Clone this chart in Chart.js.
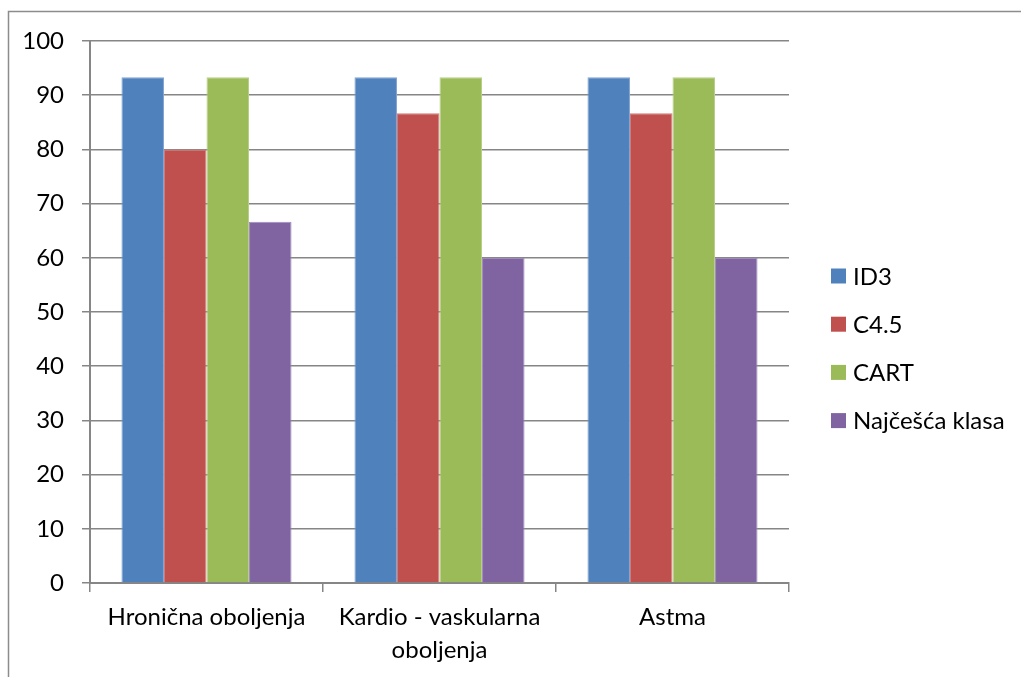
<!DOCTYPE html>
<html>
<head>
<meta charset="utf-8">
<script src="https://cdn.jsdelivr.net/npm/chart.js@4.4.1/dist/chart.umd.min.js"></script>
<style>
  html, body { margin: 0; padding: 0; background: #ffffff; }
  #wrap { width: 1021px; height: 677px; position: relative; }
</style>
</head>
<body>
<div id="wrap"><canvas id="c" width="1021" height="677"></canvas></div>
<script>
// Categories (x axis), with the long one wrapped onto two lines
const categories = [
  'Hronična oboljenja',
  ['Kardio - vaskularna', 'oboljenja'],
  'Astma'
];

// Accuracy (%) per algorithm
const seriesNames = ['ID3', 'C4.5', 'CART', 'Najčešća klasa'];
const id3Values    = [93.33, 93.33, 93.33];
const c45Values    = [80.00, 86.67, 86.67];
const cartValues   = [93.33, 93.33, 93.33];
const najcescaValues = [66.67, 60.00, 60.00];

const seriesColors = ['#4F81BD', '#C0504D', '#9BBB59', '#8064A2'];
const seriesBorders = ['#7FA3D0', '#D07C79', '#B7CF86', '#A08BBF'];

// y axis ticks
const yMin = 0, yMax = 100, yStep = 10;

const FONT = 'Lato, "Open Sans", "DejaVu Sans", sans-serif';
const FONT_SIZE = 24;
const GRID = '#868686';

// Outer frame of the chart area (runs past the right and bottom edges)
const framePlugin = {
  id: 'frame',
  beforeDraw(chart) {
    const ctx = chart.ctx;
    ctx.save();
    ctx.fillStyle = '#ffffff';
    ctx.fillRect(0, 0, chart.width, chart.height);
    ctx.strokeStyle = '#8c8c8c';
    ctx.lineWidth = 1.5;
    ctx.strokeRect(8.5, 11.5, 1200, 900);
    ctx.restore();
  }
};

// Legend on the right: square swatch + label per dataset
const legendPlugin = {
  id: 'sideLegend',
  afterDraw(chart) {
    const ctx = chart.ctx;
    const x0 = 831, size = 15, firstY = 276, gap = 48.2;
    ctx.save();
    ctx.font = FONT_SIZE + 'px ' + FONT;
    ctx.textBaseline = 'middle';
    ctx.textAlign = 'left';
    chart.data.datasets.forEach((ds, i) => {
      const cy = firstY + i * gap;
      ctx.fillStyle = ds.backgroundColor;
      ctx.fillRect(x0, cy - size / 2, size, size);
      ctx.fillStyle = '#000000';
      ctx.fillText(ds.label, x0 + 22, cy + 1);
    });
    ctx.restore();
  }
};

const values = [id3Values, c45Values, cartValues, najcescaValues];

new Chart(document.getElementById('c'), {
  type: 'bar',
  data: {
    labels: categories,
    datasets: seriesNames.map((name, i) => ({
      label: name,
      data: values[i],
      backgroundColor: seriesColors[i],
      borderColor: seriesBorders[i],
      borderWidth: 1,
      categoryPercentage: 0.73,
      barPercentage: 1.0
    }))
  },
  options: {
    responsive: false,
    animation: false,
    devicePixelRatio: 1,
    layout: { padding: { left: 8, top: 41, right: 232, bottom: 0 } },
    plugins: {
      legend: { display: false },
      tooltip: { enabled: false }
    },
    scales: {
      x: {
        offset: true,
        grid: {
          offset: true,
          drawOnChartArea: false,
          drawTicks: true,
          tickLength: 9,
          color: GRID,
          lineWidth: 1.5
        },
        border: { display: true, color: GRID, width: 2 },
        ticks: {
          color: '#000000',
          font: { family: FONT, size: FONT_SIZE, lineHeight: 1.4 },
          padding: 8,
          maxRotation: 0,
          autoSkip: false
        },
        afterFit(scale) { scale.height = 94; }
      },
      y: {
        min: yMin,
        max: yMax,
        grid: {
          color: GRID,
          lineWidth: 1.5,
          drawTicks: true,
          tickLength: 8
        },
        border: { display: true, color: GRID, width: 2 },
        ticks: {
          stepSize: yStep,
          color: '#000000',
          font: { family: FONT, size: FONT_SIZE },
          padding: 18
        },
        afterFit(scale) { scale.width = 82; }
      }
    }
  },
  plugins: [framePlugin, legendPlugin]
});
</script>
</body>
</html>
